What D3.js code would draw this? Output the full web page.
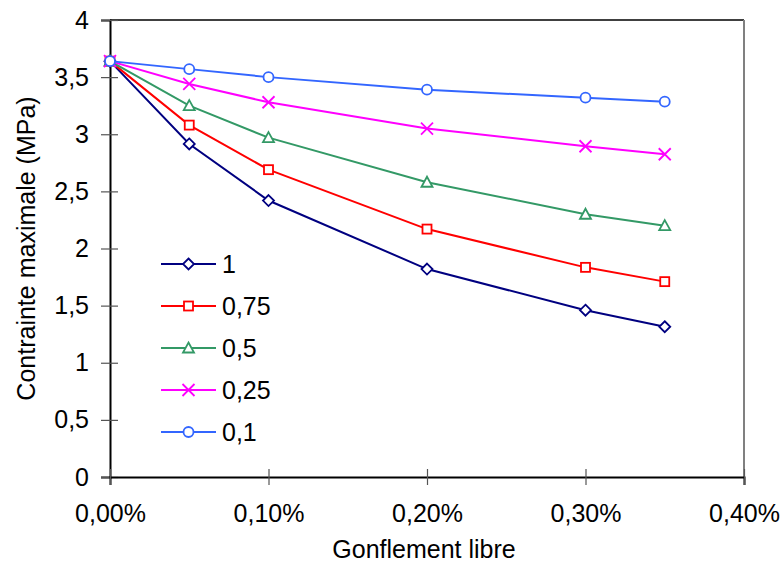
<!DOCTYPE html>
<html><head><meta charset="utf-8">
<script src="https://cdn.jsdelivr.net/npm/d3@7"></script>
<style>body{margin:0;background:#fff}svg{display:block;font-family:"Liberation Sans",Arial,sans-serif}</style>
</head><body>
<script>
const xValues = [0, 0.0005, 0.001, 0.002, 0.003, 0.0035];
const seriesNames = ["1", "0,75", "0,5", "0,25", "0,1"];
const s1 = [3.64, 2.915, 2.42, 1.82, 1.46, 1.315];
const s075 = [3.64, 3.08, 2.69, 2.17, 1.835, 1.71];
const s05 = [3.64, 3.25, 2.97, 2.58, 2.30, 2.20];
const s025 = [3.64, 3.44, 3.28, 3.05, 2.895, 2.825];
const s01 = [3.64, 3.57, 3.50, 3.39, 3.32, 3.285];
const colors = ["#000080", "#ff0000", "#339966", "#ff00ff", "#3366ff"];
const markers = ["diamond", "square", "triangle", "cross", "circle"];
const yTicks = [0, 0.5, 1, 1.5, 2, 2.5, 3, 3.5, 4];
const xTicks = [0, 0.001, 0.002, 0.003, 0.004];
const allSeries = [s1, s075, s05, s025, s01];

const W = 784, H = 564;
const m = {left: 110, right: 744, top: 20, bottom: 477};
const svg = d3.select("body").append("svg").attr("width", W).attr("height", H);
const x = d3.scaleLinear().domain([0, 0.004]).range([m.left, m.right]);
const y = d3.scaleLinear().domain([0, 4]).range([m.bottom, m.top]);
const fmtY = d => String(d).replace(".", ",");
const fmtX = d => (d * 100).toFixed(2).replace(".", ",") + "%";
const FS = 25;

// frame
svg.append("line").attr("x1", m.left).attr("x2", m.right).attr("y1", m.top).attr("y2", m.top).attr("stroke", "#000").attr("stroke-width", 1.5);
svg.append("line").attr("x1", m.right).attr("x2", m.right).attr("y1", m.top).attr("y2", m.bottom).attr("stroke", "#808080").attr("stroke-width", 2);

// y axis
const ya = svg.append("g").attr("transform", `translate(${m.left},0)`)
  .call(d3.axisLeft(y).tickValues(yTicks).tickFormat(fmtY).tickSize(9).tickPadding(12));
ya.select(".domain").attr("stroke", "#000").attr("stroke-width", 2);
ya.selectAll(".tick line").attr("x2", 8).attr("x1", -9).attr("stroke", "#555").attr("stroke-width", 1.2);
ya.selectAll(".tick text").attr("font-size", FS).attr("font-family", "Liberation Sans, Arial, sans-serif").attr("fill", "#000").attr("x", -21);

// x axis
const xa = svg.append("g").attr("transform", `translate(0,${m.bottom})`)
  .call(d3.axisBottom(x).tickValues(xTicks).tickFormat(fmtX).tickSize(8).tickPadding(19));
xa.select(".domain").attr("stroke", "#000").attr("stroke-width", 2);
xa.selectAll(".tick line").attr("y1", -8).attr("y2", 8).attr("stroke", "#555").attr("stroke-width", 1.2);
xa.selectAll(".tick text").attr("font-size", FS).attr("font-family", "Liberation Sans, Arial, sans-serif").attr("fill", "#000");

// titles
svg.append("text").attr("x", (m.left + m.right) / 2 - 3).attr("y", 558).attr("text-anchor", "middle")
  .attr("font-size", FS).text("Gonflement libre");
svg.append("text").attr("transform", `translate(35,${(m.top + m.bottom) / 2}) rotate(-90)`).attr("text-anchor", "middle")
  .attr("font-size", FS).text("Contrainte maximale (MPa)");

function drawMarker(g, type, cx, cy, color) {
  const sw = 1.8;
  if (type === "diamond") {
    g.append("path").attr("d", `M${cx},${cy-5.5}L${cx+5.5},${cy}L${cx},${cy+5.5}L${cx-5.5},${cy}Z`).attr("fill", "#fff").attr("stroke", color).attr("stroke-width", sw);
  } else if (type === "square") {
    g.append("rect").attr("x", cx - 4.5).attr("y", cy - 4.5).attr("width", 9).attr("height", 9).attr("fill", "#fff").attr("stroke", color).attr("stroke-width", sw);
  } else if (type === "triangle") {
    g.append("path").attr("d", `M${cx},${cy-5.5}L${cx+5.5},${cy+4.5}L${cx-5.5},${cy+4.5}Z`).attr("fill", "#fff").attr("stroke", color).attr("stroke-width", sw);
  } else if (type === "cross") {
    g.append("path").attr("d", `M${cx-6},${cy-6}L${cx+6},${cy+6}M${cx+6},${cy-6}L${cx-6},${cy+6}`).attr("stroke", color).attr("stroke-width", sw);
  } else {
    g.append("circle").attr("cx", cx).attr("cy", cy).attr("r", 5).attr("fill", "#fff").attr("stroke", color).attr("stroke-width", sw);
  }
}

const line = d3.line().x((d, i) => x(xValues[i])).y(d => y(d));
allSeries.forEach((s, k) => {
  const g = svg.append("g");
  g.append("path").attr("d", line(s)).attr("fill", "none").attr("stroke", colors[k]).attr("stroke-width", 2);
  s.forEach((v, i) => drawMarker(g, markers[k], x(xValues[i]), y(v), colors[k]));
});

// legend
seriesNames.forEach((n, k) => {
  const ly = 264 + k * 42;
  const g = svg.append("g");
  g.append("line").attr("x1", 161).attr("x2", 216).attr("y1", ly).attr("y2", ly).attr("stroke", colors[k]).attr("stroke-width", 2);
  drawMarker(g, markers[k], 188.5, ly, colors[k]);
  g.append("text").attr("x", 222).attr("y", ly + 9).attr("font-size", FS).text(n);
});
</script>
</body></html>
